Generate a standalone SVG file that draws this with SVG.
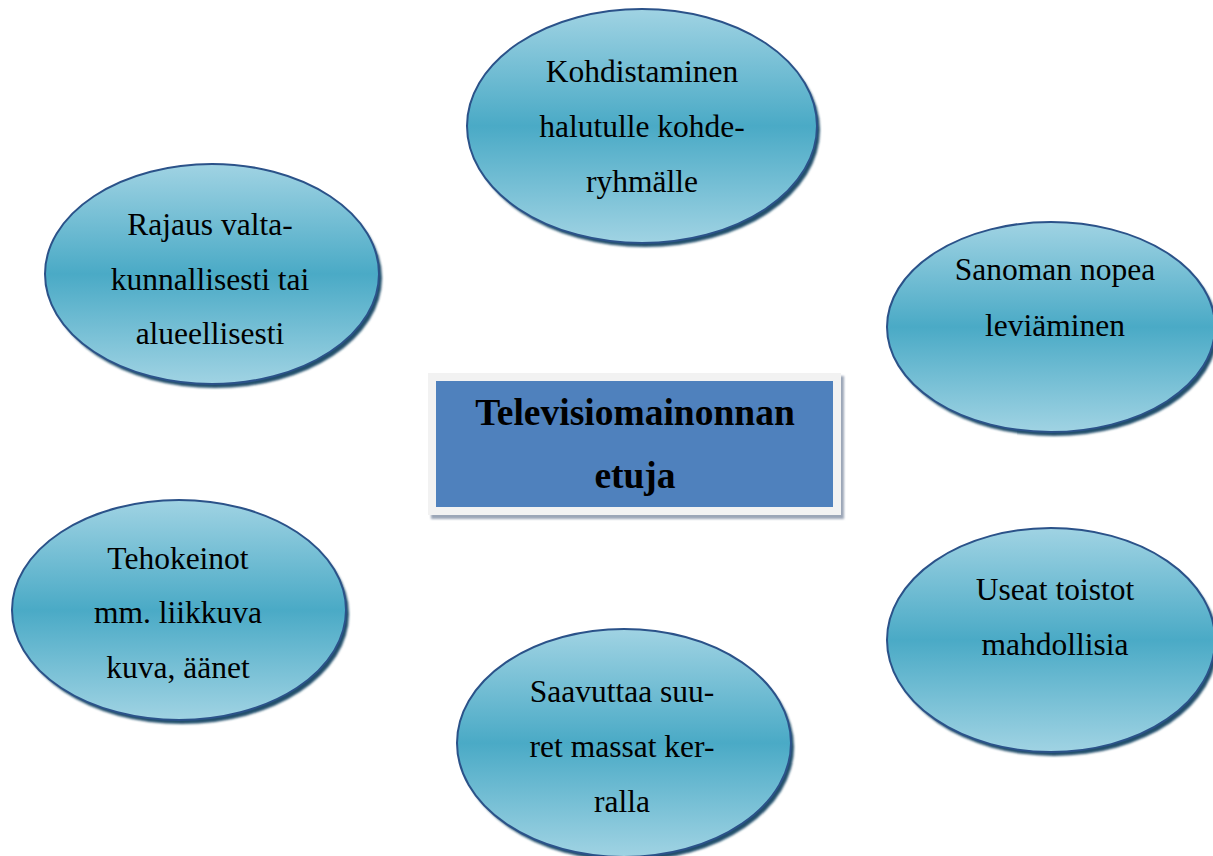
<svg xmlns="http://www.w3.org/2000/svg" width="1213" height="856" viewBox="0 0 1213 856">
  <defs>
    <linearGradient id="bubbleFill" x1="0" y1="0" x2="0" y2="1">
      <stop offset="0" stop-color="#a0d3e3"/>
      <stop offset="0.5" stop-color="#4aaac6"/>
      <stop offset="1" stop-color="#a0d3e3"/>
    </linearGradient>
    <filter id="soft" x="-10%" y="-10%" width="120%" height="120%">
      <feGaussianBlur stdDeviation="1"/>
    </filter>
  </defs>
  <style>
    .shadow { fill: #22506c; filter: url(#soft); }
    .bubble { fill: url(#bubbleFill); stroke: #2b5289; stroke-width: 2; }
    .label { font-family: "Liberation Serif", "Times New Roman", serif; font-size: 31.5px; fill: #000; text-anchor: middle; }
    .title { font-family: "Liberation Serif", "Times New Roman", serif; font-size: 37.5px; font-weight: bold; fill: #000; text-anchor: middle; }
  </style>
  <rect width="1213" height="856" fill="#ffffff"/>

  <!-- connectors: none drawn in this layout -->
  <g id="connectors"></g>

  <g id="center">
    <rect x="431" y="376" width="413" height="143" fill="#9ba6b7" filter="url(#soft)"/>
    <rect x="428" y="373" width="413" height="142" fill="#f2f2f2"/>
    <rect x="436" y="381" width="397" height="126" fill="#4f81bd"/>
    <text class="title" x="635" y="425">Televisiomainonnan</text>
    <text class="title" x="635" y="488">etuja</text>
  </g>

  <g id="kohdistaminen">
    <ellipse class="shadow" cx="645" cy="130" rx="175" ry="117"/>
    <ellipse class="bubble" cx="642" cy="126" rx="175" ry="117"/>
    <text class="label" x="642" y="82">Kohdistaminen</text>
    <text class="label" x="642" y="137">halutulle kohde-</text>
    <text class="label" x="642" y="192">ryhmälle</text>
  </g>

  <g id="rajaus">
    <ellipse class="shadow" cx="215" cy="278" rx="167" ry="110"/>
    <ellipse class="bubble" cx="212" cy="274" rx="167" ry="110"/>
    <text class="label" x="210" y="235">Rajaus valta-</text>
    <text class="label" x="210" y="290">kunnallisesti tai</text>
    <text class="label" x="210" y="344">alueellisesti</text>
  </g>

  <g id="sanoman">
    <ellipse class="shadow" cx="1054" cy="331" rx="164" ry="105"/>
    <ellipse class="bubble" cx="1051" cy="327" rx="164" ry="105"/>
    <text class="label" x="1055" y="280">Sanoman nopea</text>
    <text class="label" x="1055" y="336">leviäminen</text>
  </g>

  <g id="tehokeinot">
    <ellipse class="shadow" cx="182" cy="614" rx="167" ry="110"/>
    <ellipse class="bubble" cx="179" cy="610" rx="167" ry="110"/>
    <text class="label" x="178" y="569">Tehokeinot</text>
    <text class="label" x="178" y="623">mm. liikkuva</text>
    <text class="label" x="178" y="678">kuva, äänet</text>
  </g>

  <g id="useat">
    <ellipse class="shadow" cx="1054" cy="644" rx="164" ry="112"/>
    <ellipse class="bubble" cx="1051" cy="640" rx="164" ry="112"/>
    <text class="label" x="1055" y="600">Useat toistot</text>
    <text class="label" x="1055" y="655">mahdollisia</text>
  </g>

  <g id="saavuttaa">
    <ellipse class="shadow" cx="627" cy="747" rx="167" ry="114"/>
    <ellipse class="bubble" cx="624" cy="743" rx="167" ry="114"/>
    <text class="label" x="622" y="702">Saavuttaa suu-</text>
    <text class="label" x="622" y="757">ret massat ker-</text>
    <text class="label" x="622" y="812">ralla</text>
  </g>
</svg>
